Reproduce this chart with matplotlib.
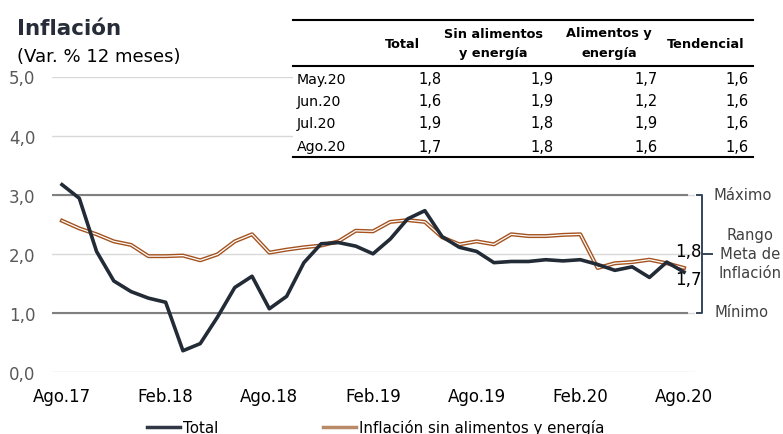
import matplotlib
matplotlib.use("Agg")
import matplotlib.pyplot as plt
from matplotlib.lines import Line2D
from matplotlib.patches import Rectangle

# Monthly 12-month inflation, Ago.17 .. Ago.20
total = [3.17, 2.94, 2.04, 1.54, 1.36, 1.25, 1.18, 0.36, 0.48, 0.93, 1.43, 1.62,
         1.07, 1.28, 1.85, 2.17, 2.19, 2.13, 2.00, 2.25, 2.59, 2.73, 2.29, 2.11,
         2.04, 1.85, 1.87, 1.87, 1.90, 1.88, 1.90, 1.82, 1.72, 1.78, 1.60, 1.86, 1.69]
core = [2.56, 2.43, 2.33, 2.21, 2.15, 1.96, 1.96, 1.97, 1.89, 1.99, 2.21, 2.33,
        2.02, 2.07, 2.11, 2.14, 2.21, 2.39, 2.38, 2.54, 2.57, 2.54, 2.28, 2.16,
        2.21, 2.16, 2.33, 2.30, 2.30, 2.32, 2.33, 1.76, 1.84, 1.86, 1.90, 1.84, 1.76]
xtick_pos = [0, 6, 12, 18, 24, 30, 36]
xtick_labels = ["Ago.17", "Feb.18", "Ago.18", "Feb.19", "Ago.19", "Feb.20", "Ago.20"]
yticks = [0, 1, 2, 3, 4, 5]
target_min, target_max = 1.0, 3.0

# Summary table
table_months = ["May.20", "Jun.20", "Jul.20", "Ago.20"]
table_total = [1.8, 1.6, 1.9, 1.7]
table_sin = [1.9, 1.9, 1.8, 1.8]
table_alim = [1.7, 1.2, 1.9, 1.6]
table_tend = [1.6, 1.6, 1.6, 1.6]

W, H = 783, 435
fig = plt.figure(figsize=(W / 100, H / 100), dpi=100)


def fx(px):
    return px / W


def fy(py):
    return 1 - py / H


def comma(v):
    return f"{v:.1f}".replace(".", ",")


ax = fig.add_axes([fx(52), fy(373), fx(695 - 52), (373 - 77.5) / H])
x = list(range(len(total)))
ax.set_xlim(-10 / 17.28, 36 + 11 / 17.28)
ax.set_ylim(0, 5)

navy = "#222b36"
brown = "#a4531f"

ax.plot(x, core, color=brown, lw=2.9, zorder=3)
ax.plot(x, core, color="white", lw=0.9, zorder=3.1)
ax.plot(x, total, color=navy, lw=2.6, zorder=4)

ax.set_yticks(yticks)
ax.set_yticklabels([comma(v) for v in yticks], color="#595959", fontsize=12)
ax.grid(axis="y", color="#d9d9d9", lw=1)
ax.set_axisbelow(True)
for v in (target_min, target_max):
    ax.axhline(v, xmin=0, xmax=0.988, color="#808080", lw=1.5, zorder=1)
ax.set_xticks(xtick_pos)
ax.set_xticklabels(xtick_labels, fontsize=12)
ax.tick_params(axis="both", length=0)
ax.tick_params(axis="y", pad=12)
ax.tick_params(axis="x", pad=11)
for s in ax.spines.values():
    s.set_visible(False)

# Target range bracket
bx = 37.04
br = "#34455a"
ax.plot([36.75, bx, bx, 36.75], [target_max, target_max, target_min, target_min],
        color=br, lw=1.4, clip_on=False)
ax.plot([bx, 37.62], [2.0, 2.0], color=br, lw=1.4, clip_on=False)
ax.text(37.73, target_max, "Máximo", fontsize=10.6, color="#404040",
        ha="left", va="center")
ax.text(37.78, target_min + 0.03, "Mínimo", fontsize=10.6, color="#404040",
        ha="left", va="center")
ax.text(39.8, 2.0, "Rango\nMeta de\nInflación", fontsize=10.6, color="#404040",
        ha="center", va="center", linespacing=1.32)
ax.text(37.0, 2.05, comma(core[-1]), fontsize=12, ha="right", va="center")
ax.text(37.0, 1.57, comma(total[-1]), fontsize=12, ha="right", va="center")

# Title
fig.text(fx(17), fy(35), "Inflación", fontsize=15.5, fontweight="bold",
         color="#262d38", ha="left", va="baseline")
fig.text(fx(17), fy(62), "(Var. % 12 meses)", fontsize=13, ha="left", va="baseline")

# Table
fig.add_artist(Rectangle((fx(293), fy(160)), fx(753 - 293), (160 - 18) / H,
                         facecolor="white", edgecolor="none", zorder=5))
for py in (21, 67, 158):
    fig.add_artist(Line2D([fx(293), fx(753)], [fy(py), fy(py)], color="black",
                          lw=1.5, zorder=6))
hdr = dict(fontsize=9.3, fontweight="bold", ha="center", va="center", zorder=7)
fig.text(fx(402), fy(44), "Total", **hdr)
fig.text(fx(493), fy(34), "Sin alimentos", **hdr)
fig.text(fx(493), fy(54), "y energía", **hdr)
fig.text(fx(609), fy(34), "Alimentos y", **hdr)
fig.text(fx(609), fy(54), "energía", **hdr)
fig.text(fx(706), fy(44), "Tendencial", **hdr)
row_y = [80, 102, 124, 147]
cols = [(table_total, 442), (table_sin, 554), (table_alim, 658), (table_tend, 749)]
for i, m in enumerate(table_months):
    fig.text(fx(297), fy(row_y[i]), m, fontsize=10.2, ha="left", va="center", zorder=7)
    for vals, xr in cols:
        fig.text(fx(xr), fy(row_y[i]), comma(vals[i]), fontsize=10.5,
                 ha="right", va="center", zorder=7)

# Legend
handles = [Line2D([], [], color="#2f3844", lw=2.5),
           Line2D([], [], color="#b98a68", lw=2.5)]
fig.legend(handles, ["Total", "Inflación sin alimentos y energía"],
           loc="center left", bbox_to_anchor=(fx(147), fy(428)), ncol=2,
           frameon=False, fontsize=10.8, handlelength=2.2, handletextpad=0.2,
           columnspacing=7.0, borderpad=0, borderaxespad=0)

fig.savefig("out.png", dpi=100)
